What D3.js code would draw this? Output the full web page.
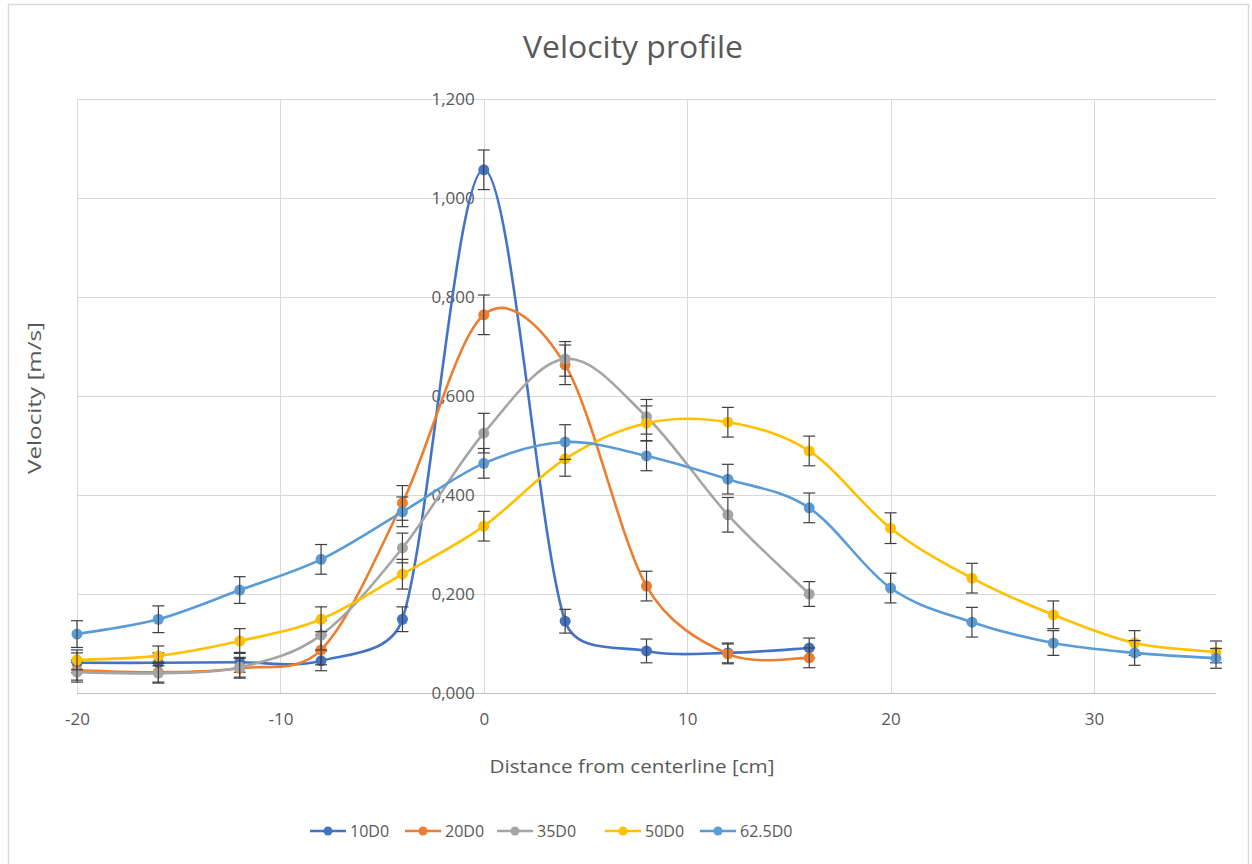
<!DOCTYPE html>
<html>
<head>
<meta charset="utf-8">
<script src="https://cdn.jsdelivr.net/npm/d3@7"></script>
<style>
  body { margin: 0; background: #ffffff; }
  svg text { font-family: "Open Sans", "Noto Sans", sans-serif; fill: #595959; }
</style>
</head>
<body>
<svg id="chart" width="1252" height="864"></svg>
<script>
// Measurement positions across the jet [cm]
const xNear = [-20, -16, -12, -8, -4, 0, 4, 8, 12, 16];
const xFar  = [-20, -16, -12, -8, -4, 0, 4, 8, 12, 16, 20, 24, 28, 32, 36];

// Mean velocity [m/s] at each station
const v10D0  = [0.061, 0.061, 0.062, 0.065, 0.149, 1.057, 0.145, 0.085, 0.081, 0.091];
const v20D0  = [0.046, 0.042, 0.050, 0.087, 0.384, 0.764, 0.663, 0.216, 0.079, 0.071];
const v35D0  = [0.042, 0.040, 0.052, 0.117, 0.293, 0.525, 0.675, 0.558, 0.360, 0.200];
const v50D0  = [0.067, 0.075, 0.105, 0.149, 0.240, 0.337, 0.473, 0.545, 0.547, 0.489,
                0.333, 0.232, 0.158, 0.101, 0.083];
const v625D0 = [0.119, 0.149, 0.208, 0.270, 0.366, 0.464, 0.507, 0.479, 0.432, 0.374,
                0.212, 0.143, 0.101, 0.081, 0.070];

// Standard deviation shown as error bars [m/s]
const e10D0  = [0.020, 0.020, 0.020, 0.020, 0.025, 0.040, 0.024, 0.024, 0.020, 0.020];
const e20D0  = [0.020, 0.020, 0.020, 0.030, 0.035, 0.040, 0.040, 0.030, 0.020, 0.020];
const e35D0  = [0.020, 0.020, 0.020, 0.030, 0.030, 0.040, 0.035, 0.035, 0.035, 0.025];
const e50D0  = [0.020, 0.020, 0.025, 0.025, 0.030, 0.030, 0.035, 0.035, 0.030, 0.030,
                0.031, 0.030, 0.028, 0.025, 0.022];
const e625D0 = [0.027, 0.027, 0.027, 0.030, 0.030, 0.030, 0.035, 0.030, 0.030, 0.030,
                0.030, 0.030, 0.025, 0.025, 0.020];

const seriesNames  = ["10D0", "20D0", "35D0", "50D0", "62.5D0"];
const seriesColors = ["#4472C4", "#ED7D31", "#A5A5A5", "#FFC000", "#5B9BD5"];

const xTicks = [-20, -10, 0, 10, 20, 30];
const yTicks = [0, 0.2, 0.4, 0.6, 0.8, 1.0, 1.2];

const series = [
  { name: seriesNames[0], color: seriesColors[0], xs: xNear, vs: v10D0,  es: e10D0 },
  { name: seriesNames[1], color: seriesColors[1], xs: xNear, vs: v20D0,  es: e20D0 },
  { name: seriesNames[2], color: seriesColors[2], xs: xNear, vs: v35D0,  es: e35D0 },
  { name: seriesNames[3], color: seriesColors[3], xs: xFar,  vs: v50D0,  es: e50D0 },
  { name: seriesNames[4], color: seriesColors[4], xs: xFar,  vs: v625D0, es: e625D0 }
].map(s => ({ ...s, points: s.xs.map((x, i) => ({ x, v: s.vs[i], e: s.es[i] })) }));

// Smoothed line: cardinal-style Bezier handles (1/6 of the neighbour chord),
// with each handle capped relative to its own segment so short segments do not overshoot.
function curveCappedCardinal(context) {
  const cap = 0.4;
  let pts;
  return {
    areaStart() {}, areaEnd() {},
    lineStart() { pts = []; },
    point(px, py) { pts.push([+px, +py]); },
    lineEnd() {
      const n = pts.length;
      if (!n) return;
      context.moveTo(pts[0][0], pts[0][1]);
      const tangent = i => {
        const a = pts[Math.max(i - 1, 0)], b = pts[Math.min(i + 1, n - 1)];
        return [(b[0] - a[0]) / 6, (b[1] - a[1]) / 6];
      };
      const limit = (t, segLen) => {
        const L = Math.hypot(t[0], t[1]), m = cap * segLen;
        return L > m && L > 0 ? [t[0] * m / L, t[1] * m / L] : t;
      };
      for (let i = 0; i < n - 1; i++) {
        const p1 = pts[i], p2 = pts[i + 1];
        const seg = Math.hypot(p2[0] - p1[0], p2[1] - p1[1]);
        const t1 = limit(tangent(i), seg), t2 = limit(tangent(i + 1), seg);
        context.bezierCurveTo(p1[0] + t1[0], p1[1] + t1[1], p2[0] - t2[0], p2[1] - t2[1], p2[0], p2[1]);
      }
    }
  };
}

const svg = d3.select("#chart");

// Chart frame
svg.append("rect")
  .attr("x", 8.5).attr("y", 4.5).attr("width", 1240).attr("height", 880)
  .attr("fill", "#ffffff").attr("stroke", "#d9d9d9").attr("stroke-width", 1.5);

const plot = { left: 77, right: 1216, top: 99, bottom: 693 };
const x = d3.scaleLinear().domain([-20, 36]).range([plot.left, plot.right]);
const y = d3.scaleLinear().domain([0, 1.2]).range([plot.bottom, plot.top]);

const commaLocale = d3.formatLocale({ decimal: ",", thousands: ".", grouping: [3], currency: ["", ""], minus: "-" });
const yFmt = commaLocale.format(".3f");
const xFmt = commaLocale.format("d");

// Gridlines
svg.append("g").selectAll("line").data(yTicks.slice(1)).join("line")
  .attr("x1", plot.left).attr("x2", plot.right)
  .attr("y1", d => Math.round(y(d)) + 0.5).attr("y2", d => Math.round(y(d)) + 0.5)
  .attr("stroke", "#d9d9d9").attr("stroke-width", 1);
svg.append("g").selectAll("line").data(xTicks).join("line")
  .attr("x1", d => Math.round(x(d)) + 0.5).attr("x2", d => Math.round(x(d)) + 0.5)
  .attr("y1", plot.top).attr("y2", plot.bottom)
  .attr("stroke", "#d9d9d9").attr("stroke-width", 1);

// Horizontal axis line along y = 0
svg.append("line")
  .attr("x1", plot.left).attr("x2", plot.right)
  .attr("y1", Math.round(y(0)) + 0.5).attr("y2", Math.round(y(0)) + 0.5)
  .attr("stroke", "#bfbfbf").attr("stroke-width", 1.2);

// X axis labels
const xAxis = svg.append("g")
  .attr("transform", `translate(0,${y(0)})`)
  .call(d3.axisBottom(x).tickValues(xTicks).tickSize(0).tickPadding(20).tickFormat(xFmt));
xAxis.select(".domain").remove();
xAxis.selectAll("text").style("font-size", "17px").attr("fill", "#595959");

// Y axis labels, placed at the vertical line x = 0
const yAxis = svg.append("g")
  .attr("transform", `translate(${x(0)},0)`)
  .call(d3.axisLeft(y).tickValues(yTicks).tickSize(0).tickPadding(9).tickFormat(yFmt));
yAxis.select(".domain").remove();
yAxis.selectAll("text").style("font-size", "17px").attr("fill", "#595959");

// Series curves
const line = d3.line()
  .x(d => x(d.x)).y(d => y(d.v))
  .curve(curveCappedCardinal);

const seriesG = svg.append("g").selectAll("g").data(series).join("g");

seriesG.append("path")
  .attr("d", d => line(d.points))
  .attr("fill", "none")
  .attr("stroke", d => d.color)
  .attr("stroke-width", 2.6)
  .attr("stroke-linejoin", "round");

seriesG.selectAll("circle").data(d => d.points.map(p => ({ ...p, color: d.color }))).join("circle")
  .attr("cx", d => x(d.x)).attr("cy", d => y(d.v)).attr("r", 5.5)
  .attr("fill", d => d.color);

// Error bars
const capHalf = 6;
const errG = seriesG.selectAll("g.err").data(d => d.points).join("g").attr("class", "err")
  .attr("stroke", "#404040").attr("stroke-width", 1.2);
errG.append("line")
  .attr("x1", d => x(d.x)).attr("x2", d => x(d.x))
  .attr("y1", d => y(d.v + d.e)).attr("y2", d => y(d.v - d.e));
errG.append("line")
  .attr("x1", d => x(d.x) - capHalf).attr("x2", d => x(d.x) + capHalf)
  .attr("y1", d => y(d.v + d.e)).attr("y2", d => y(d.v + d.e));
errG.append("line")
  .attr("x1", d => x(d.x) - capHalf).attr("x2", d => x(d.x) + capHalf)
  .attr("y1", d => y(d.v - d.e)).attr("y2", d => y(d.v - d.e));

// Title
svg.append("text")
  .attr("x", 633).attr("y", 58)
  .attr("text-anchor", "middle")
  .attr("textLength", 220).attr("lengthAdjust", "spacingAndGlyphs")
  .style("font-size", "31px")
  .text("Velocity profile");

// Axis titles
svg.append("text")
  .attr("x", 632).attr("y", 773)
  .attr("text-anchor", "middle")
  .attr("textLength", 285).attr("lengthAdjust", "spacingAndGlyphs")
  .style("font-size", "19px")
  .text("Distance from centerline [cm]");

svg.append("text")
  .attr("transform", `translate(41,${(plot.top + plot.bottom) / 2 + 2}) rotate(-90)`)
  .attr("text-anchor", "middle")
  .attr("textLength", 152).attr("lengthAdjust", "spacingAndGlyphs")
  .style("font-size", "19px")
  .text("Velocity [m/s]");

// Legend
const legendX = [310, 405, 497, 605, 700];
const legend = svg.append("g").selectAll("g").data(series).join("g")
  .attr("transform", (d, i) => `translate(${legendX[i]},831)`);
legend.append("line")
  .attr("x1", 0).attr("x2", 36).attr("y1", 0).attr("y2", 0)
  .attr("stroke", d => d.color).attr("stroke-width", 2.6);
legend.append("circle")
  .attr("cx", 18).attr("cy", 0).attr("r", 4.5).attr("fill", d => d.color);
legend.append("text")
  .attr("x", 40).attr("y", 0).attr("dy", "0.36em")
  .style("font-size", "16px")
  .text(d => d.name);
</script>
</body>
</html>
